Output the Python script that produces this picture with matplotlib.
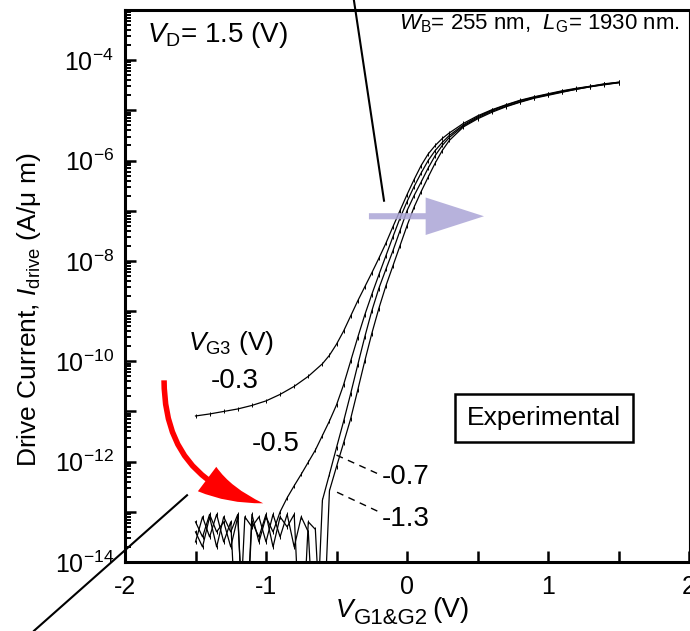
import numpy as np
import matplotlib
matplotlib.use('Agg')
import matplotlib.pyplot as plt
from matplotlib.ticker import LogLocator, FixedLocator, FuncFormatter, NullFormatter

plt.rcParams['font.family'] = ['Liberation Sans', 'DejaVu Sans']
plt.rcParams['mathtext.fontset'] = 'custom'
plt.rcParams['mathtext.rm'] = 'Liberation Sans'
plt.rcParams['mathtext.it'] = 'Liberation Sans:italic'
plt.rcParams['mathtext.bf'] = 'Liberation Sans:bold'
plt.rcParams['axes.unicode_minus'] = False

# gate voltage VG1&G2 (V) and log10 of drive current (A/um), one set per VG3
x_upper = [0.3, 0.4, 0.5, 0.6, 0.7, 0.8, 0.9, 1.0, 1.1, 1.2, 1.3, 1.4, 1.5]

# VG3 = -0.3 V
x_m03 = [-1.5, -1.4, -1.3, -1.2, -1.1, -1.0, -0.9, -0.8, -0.7, -0.6, -0.55, -0.5, -0.45,
         -0.4, -0.35, -0.3, -0.25, -0.2, -0.15, -0.1, -0.05, 0.0, 0.05, 0.1, 0.15, 0.2, 0.25] + x_upper
logI_m03 = [-11.09, -11.05, -11.0, -10.95, -10.88, -10.79, -10.66, -10.5, -10.3, -10.05, -9.88, -9.66, -9.4,
            -9.1, -8.8, -8.52, -8.24, -7.95, -7.65, -7.32, -7.0, -6.68, -6.38, -6.1, -5.87, -5.7, -5.56,
            -5.45, -5.26, -5.11, -4.99, -4.89, -4.8, -4.73, -4.67, -4.61, -4.56, -4.52, -4.47, -4.44]

# VG3 = -0.5 V
x_m05 = [-1.5, -1.45, -1.4, -1.35, -1.3, -1.25, -1.2, -1.15, -1.1, -1.05, -1.0, -0.95,
         -0.9, -0.85, -0.8, -0.75, -0.7, -0.65, -0.6, -0.55, -0.5, -0.45, -0.4, -0.35, -0.3,
         -0.25, -0.2, -0.15, -0.1, -0.05, 0.0, 0.05, 0.1, 0.15, 0.2, 0.25] + x_upper
logI_m05 = [-13.2, -13.5, -13.05, -13.4, -13.2, -13.7, -13.1, -16, -13.05, -13.6, -13.1, -13.4,
            -13.0, -12.72, -12.48, -12.25, -12.01, -11.77, -11.48, -11.19, -10.87, -10.47, -10.0, -9.53, -9.08,
            -8.67, -8.28, -7.9, -7.52, -7.15, -6.82, -6.52, -6.25, -6.0, -5.8, -5.64,
            -5.5, -5.29, -5.13, -5.0, -4.9, -4.81, -4.74, -4.68, -4.62, -4.57, -4.52, -4.48, -4.44]

# VG3 = -0.7 V
x_m07 = [-1.5, -1.45, -1.4, -1.35, -1.3, -1.25, -1.2, -1.15, -1.1, -1.05, -1.0, -0.95, -0.9,
         -0.85, -0.8, -0.75, -0.7, -0.65, -0.6, -0.55, -0.5, -0.45, -0.4, -0.35, -0.3, -0.25,
         -0.2, -0.15, -0.1, -0.05, 0.0, 0.05, 0.1, 0.15, 0.2, 0.25] + x_upper
logI_m07 = [-13.6, -13.1, -13.5, -13.05, -13.6, -13.2, -16, -13.1, -13.3, -13.1, -13.6, -13.05, -13.5,
            -13.05, -13.7, -13.1, -13.4, -16, -12.77, -12.25, -11.72, -11.2, -10.65, -10.08, -9.52, -9.0,
            -8.55, -8.17, -7.8, -7.4, -7.0, -6.7, -6.43, -6.15, -5.9, -5.7,
            -5.54, -5.31, -5.15, -5.02, -4.92, -4.83, -4.75, -4.69, -4.63, -4.58, -4.53, -4.48, -4.45]

# VG3 = -1.3 V
x_m13 = [-1.5, -1.45, -1.4, -1.35, -1.3, -1.25, -1.2, -1.15, -1.1, -1.05, -1.0, -0.95, -0.9,
         -0.85, -0.8, -0.75, -0.7, -0.65, -0.6, -0.55, -0.5, -0.45, -0.4, -0.35, -0.3, -0.25,
         -0.2, -0.15, -0.1, -0.05, 0.0, 0.05, 0.1, 0.15, 0.2, 0.25] + x_upper
logI_m13 = [-13.4, -13.7, -13.1, -13.7, -13.1, -13.4, -13.05, -16, -13.2, -13.5, -13.05, -13.7, -13.1,
            -13.3, -13.05, -16, -13.2, -13.35, -16, -12.58, -12.1, -11.63, -11.15, -10.58, -10.0, -9.45,
            -8.95, -8.5, -8.1, -7.7, -7.3, -6.93, -6.62, -6.33, -6.05, -5.8,
            -5.6, -5.33, -5.17, -5.04, -4.93, -4.84, -4.76, -4.7, -4.64, -4.58, -4.53, -4.49, -4.45]

curves = [(x_m03, logI_m03), (x_m05, logI_m05), (x_m07, logI_m07), (x_m13, logI_m13)]

fig = plt.figure(figsize=(6.9, 6.31), dpi=100)
ax = fig.add_axes([125 / 690, 1 - 562 / 631, (689 - 125) / 690, (562 - 10) / 631])

for xv, lv in curves:
    ax.plot(xv, 10.0 ** np.array(lv), color='black', lw=0.9,
            marker='|', ms=3, mew=0.7)

ax.set_yscale('log')
ax.set_xlim(-2, 2)
ax.set_ylim(1e-14, 1e-3)

ax.yaxis.set_major_locator(LogLocator(base=10, numticks=30))
ax.yaxis.set_minor_locator(LogLocator(base=10, subs=np.arange(2, 10), numticks=30))
ax.yaxis.set_major_formatter(FuncFormatter(
    lambda v, p: r'$10^{%d}$' % round(np.log10(v)) if round(np.log10(v)) % 2 == 0 else ''))
ax.yaxis.set_minor_formatter(NullFormatter())
ax.xaxis.set_major_locator(FixedLocator([-2, -1, 0, 1, 2]))
ax.xaxis.set_minor_locator(FixedLocator([-1.5, -0.5, 0.5, 1.5]))
ax.set_xticklabels(['-2', '-1', '0', '1', '2'])

ax.tick_params(axis='both', which='major', direction='in', length=8, width=1.8, labelsize=18)
ax.tick_params(axis='y', which='minor', direction='in', length=4.5, width=1.4)
ax.tick_params(axis='x', which='minor', direction='in', length=8, width=1.8)
ax.tick_params(axis='y', which='major', pad=8)
ax.tick_params(axis='x', which='major', pad=9)

for s in ['left', 'bottom', 'top']:
    ax.spines[s].set_linewidth(2.2)
ax.spines['right'].set_linewidth(0.8)

fig.text(29 / 690, 1 - 310 / 631, r'Drive Current, $I_{\rm drive}$ (A/μ m)',
         rotation=90, ha='center', va='center', fontsize=19)
# x label: V (italic) with subscript G1&G2
fig.text(336 / 690, 1 - 617 / 631, 'V', style='italic', fontsize=19, va='baseline')
fig.text(354 / 690, 1 - 624 / 631, 'G1&G2', fontsize=16, va='baseline')
fig.text(432 / 690, 1 - 617 / 631, '(V)', fontsize=20, va='baseline')

ax.text(0.039, 0.955, r'$V_{\rm D}$= 1.5 (V)', transform=ax.transAxes,
        ha='left', va='center', fontsize=20)
ax.text(0.984, 0.975, r'$W_{\rm B}$= 255 nm,  $L_{\rm G}$= 1930 nm.', transform=ax.transAxes,
        ha='right', va='center', fontsize=16)

ax.text(-1.248, 10 ** -9.64, r'$V_{\rm G3}$ (V)', ha='center', va='center', fontsize=19)
ax.text(-1.22, 10 ** -10.40, '-0.3', ha='center', va='center', fontsize=20)
ax.text(-0.929, 10 ** -11.65, '-0.5', ha='center', va='center', fontsize=20)
ax.text(-0.007, 10 ** -12.31, '-0.7', ha='center', va='center', fontsize=20)
ax.text(-0.007, 10 ** -13.14, '-1.3', ha='center', va='center', fontsize=20)

ax.plot([-0.50, -0.184], [10 ** -11.87, 10 ** -12.27], color='black', lw=1, ls=(0, (5, 4)))
ax.plot([-0.496, -0.184], [10 ** -12.61, 10 ** -13.02], color='black', lw=1, ls=(0, (5, 4)))

ax.text(0.972, 10 ** -11.13, 'Experimental', ha='center', va='center', fontsize=19,
        bbox=dict(boxstyle='square,pad=0.45', fc='white', ec='black', lw=1.8))

# pointer lines running off the plot
ax.plot([-0.376, -0.163], [10 ** -2.816, 10 ** -6.80], color='black', lw=1.5, clip_on=False)
ax.plot([-2.645, -1.56], [10 ** -15.37, 10 ** -12.67], color='black', lw=1.5, clip_on=False)

# arrows
ax.annotate('', xy=(0.546, 10 ** -7.11), xytext=(-0.27, 10 ** -7.11),
            arrowprops=dict(arrowstyle='simple,head_length=2.1,head_width=1.35,tail_width=0.22',
                            mutation_scale=20, color='#aba5d6', alpha=0.85, lw=0,
                            shrinkA=0, shrinkB=0), zorder=5)
ax.annotate('', xy=(-1.02, 10 ** -12.83), xytext=(-1.723, 10 ** -10.38),
            arrowprops=dict(arrowstyle='simple,head_length=2.2,head_width=1.1,tail_width=0.2',
                            mutation_scale=20, color='red', lw=0, shrinkA=0, shrinkB=0,
                            connectionstyle='arc3,rad=0.4'), zorder=5)

fig.savefig('out.png', dpi=100)
